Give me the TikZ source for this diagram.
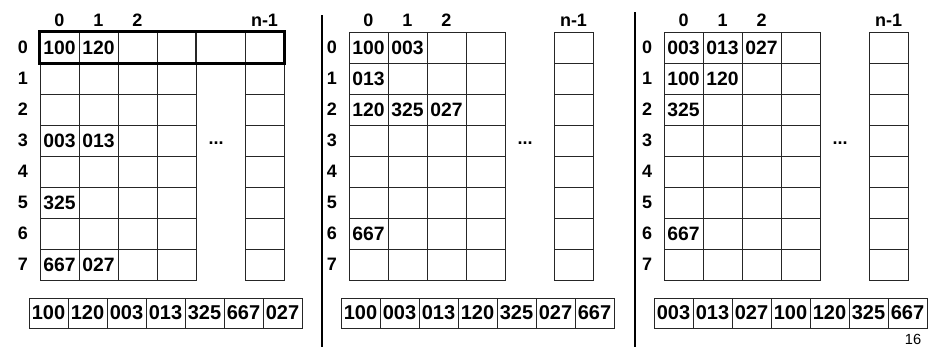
\documentclass[tikz,border=0pt]{standalone}
\usepackage{fontspec}
\setmainfont{Liberation Sans}
\usetikzlibrary{positioning}
\tikzset{
  cell/.style={rectangle, draw=black!85, line width=0.6pt, inner sep=0pt,
               minimum width=29.25pt, minimum height=23.25pt,
               font=\bfseries\fontsize{14.5}{15}\selectfont},
  arrcell/.style={cell, minimum height=22.5pt, font=\bfseries\fontsize{15}{16}\selectfont},
  lbl/.style={inner sep=0pt, font=\bfseries\fontsize{13.5}{14}\selectfont},
  val/.style={inner sep=0pt, font=\bfseries\fontsize{14.5}{15}\selectfont},
  sep/.style={line width=2.2pt},
  rowframe/.style={line width=1.9pt},
}
\begin{document}
\begin{tikzpicture}[x=0.75pt, y=-0.75pt]
  \useasboundingbox (0,0) rectangle (939,347);

  % three tables with the same frame
  \foreach \p/\xo in {1/40, 2/349, 3/664} {
    \foreach \r in {0,...,7} {
      \node[lbl] (p\p-row\r) at ({\xo-17}, {47.5+31*\r}) {\r};
      \foreach \c in {0,...,3}
        \node[cell] (p\p-\r-\c) at ({\xo+19.5+39*\c}, {47.5+31*\r}) {};
      \node[cell] (p\p-\r-n) at ({\xo+224.5}, {47.5+31*\r}) {};
    }
    \foreach \c in {0,1,2}
      \node[lbl] (p\p-col\c) at ({\xo+19.5+39*\c}, 20) {\c};
    \node[lbl] (p\p-coln) at ({\xo+224.5}, 20) {n-1};
    \node[lbl] (p\p-dots) at ({\xo+176}, 143) {...};
  }

  % first table: row 0 complete
  \node[cell, minimum width=37.5pt] (p1-0-4) at (220, 47.5) {};
  \draw[rowframe] (p1-0-0.north west) rectangle (p1-0-n.south east);

  % entries
  \foreach \n/\v in {0-0/100, 0-1/120, 3-0/003, 3-1/013, 5-0/325, 7-0/667, 7-1/027}
    \node[val] (v1-\n) at (p1-\n) {\v};
  \foreach \n/\v in {0-0/100, 0-1/003, 1-0/013, 2-0/120, 2-1/325, 2-2/027, 6-0/667}
    \node[val] (v2-\n) at (p2-\n) {\v};
  \foreach \n/\v in {0-0/003, 0-1/013, 0-2/027, 1-0/100, 1-1/120, 2-0/325, 6-0/667}
    \node[val] (v3-\n) at (p3-\n) {\v};

  % flat arrays
  \foreach \v [count=\i from 0] in {100,120,003,013,325,667,027}
    \node[arrcell] (a1-\i) at ({48.5+39*\i}, 313) {\v};
  \foreach \v [count=\i from 0] in {100,003,013,120,325,027,667}
    \node[arrcell] (a2-\i) at ({360.5+39*\i}, 313) {\v};
  \foreach \v [count=\i from 0] in {003,013,027,100,120,325,667}
    \node[arrcell] (a3-\i) at ({673.5+39*\i}, 313) {\v};

  % separators
  \draw[sep] (322,15) -- (322,347);
  \draw[sep] (635,12) -- (635,347);

  \node[inner sep=0pt, font=\fontsize{11}{12}\selectfont] (page) at (913,339) {16};
\end{tikzpicture}
\end{document}
